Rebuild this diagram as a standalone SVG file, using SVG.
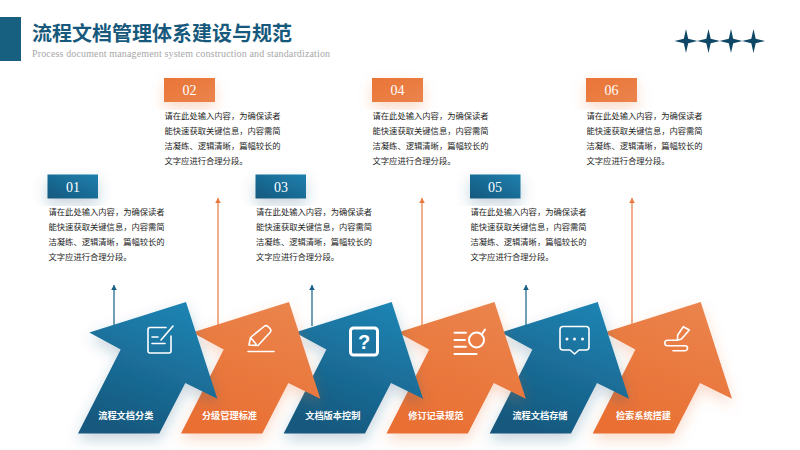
<svg xmlns="http://www.w3.org/2000/svg" width="800" height="450" viewBox="0 0 800 450">
<style>
.t{font-family:"Liberation Serif","Noto Sans CJK SC",serif}
.title{font-size:20px;font-weight:700;fill:#17597c}
.sub{font-size:10px;fill:#a8a8a8;letter-spacing:.14px}
.num{font-size:14px;fill:#fff;text-anchor:middle}
.body{font-size:8.3px;fill:#262626}
.lab{font-size:9.2px;font-weight:700;fill:#fff;text-anchor:middle}
.ic{fill:none;stroke:#fff;stroke-width:1.6;stroke-linecap:round;stroke-linejoin:round}
.i2{stroke-width:2}
.lb{stroke:#175f85;stroke-width:1.2;fill:none}
.lo{stroke:#e8793f;stroke-width:1.2;fill:none}
</style>
<defs>
<linearGradient id="gb" x1=".75" y1="0" x2=".35" y2="1"><stop offset="0" stop-color="#1f84b3"/><stop offset="1" stop-color="#15587e"/></linearGradient>
<linearGradient id="go" x1=".75" y1="0" x2=".35" y2="1"><stop offset="0" stop-color="#ea844c"/><stop offset="1" stop-color="#e96f33"/></linearGradient>
<linearGradient id="bb" x1="0" y1="1" x2="1" y2="0"><stop offset="0" stop-color="#15587e"/><stop offset="1" stop-color="#1d80ad"/></linearGradient>
<linearGradient id="bo" x1="0" y1="0" x2="1" y2="1"><stop offset="0" stop-color="#ea7437"/><stop offset="1" stop-color="#ea844c"/></linearGradient>
<filter id="sb" x="-30%" y="-30%" width="160%" height="160%"><feDropShadow dx="0" dy="6" stdDeviation="7" flood-color="#15587e" flood-opacity=".25"/></filter>
<filter id="so" x="-30%" y="-30%" width="160%" height="160%"><feDropShadow dx="0" dy="6" stdDeviation="7" flood-color="#e96f33" flood-opacity=".25"/></filter>
<path id="a" d="M89.3 332.5 186 302 217.300 398.700 185.300 383 159.300 433.500H78L120.700 349.500Z"/>
<path id="s" d="M0-12 2.200-2.200 11.500 0 2.200 2.200 0 12-2.200 2.200-11.500 0-2.200-2.200Z" fill="#0f4766"/>
<marker id="mb" markerUnits="userSpaceOnUse" markerWidth="6" markerHeight="6" refX="5" refY="3" orient="auto"><path d="M0 .2 5 3 0 5.800Z" fill="#175f85"/></marker>
<marker id="mo" markerUnits="userSpaceOnUse" markerWidth="6" markerHeight="6" refX="5" refY="3" orient="auto"><path d="M0 .2 5 3 0 5.800Z" fill="#e8793f"/></marker>
</defs>
<rect width="800" height="450" fill="#fff"/>
<g id="header">
<rect x="0" y="17" width="21" height="44" fill="#17607f"/>
<text class="t title" x="32" y="41">流程文档管理体系建设与规范</text>
<text class="t sub" x="32" y="57">Process document management system construction and standardization</text>
<use href="#s" x="686" y="41"/><use href="#s" x="708.500" y="41"/><use href="#s" x="731" y="41"/><use href="#s" x="753.500" y="41"/>
</g>
<g id="connectors">
<path class="lb" marker-end="url(#mb)" d="M114 326V285"/>
<path class="lo" marker-end="url(#mo)" d="M218 325V198"/>
<path class="lb" marker-end="url(#mb)" d="M312 326V285"/>
<path class="lo" marker-end="url(#mo)" d="M422 325V198"/>
<path class="lb" marker-end="url(#mb)" d="M526 326V285"/>
<path class="lo" marker-end="url(#mo)" d="M632 325V198"/>
</g>
<g id="node6">
<use href="#a" x="514.700" fill="url(#go)" filter="url(#so)"/>
<path class="ic" d="M678 340.300H667.500A2.700 2.700 0 0 0 667.500 345.700H685A2.500 2.500 0 0 1 685 350.700H673M683.300 326.700 689.300 330 681.500 339 677.300 340.300 677.700 335Z"/>
<text class="t lab" x="643.500" y="419">检索系统搭建</text>
<rect x="586" y="78" width="51" height="24" fill="url(#bo)" filter="url(#so)"/><text class="t num" x="611.500" y="95">06</text>
<g class="t body"><text x="586.500" y="119">请在此处输入内容，为确保读者</text><text x="586.500" y="134">能快速获取关键信息，内容需简</text><text x="586.500" y="149">洁凝练、逻辑清晰，篇幅较长的</text><text x="586.500" y="164">文字应进行合理分段。</text></g>
</g>
<g id="node5">
<use href="#a" x="411.700" fill="url(#gb)" filter="url(#sb)"/>
<path class="ic" d="M563 326.500H586A3 3 0 0 1 589 329.500V347A3 3 0 0 1 586 350H579L574.500 354 570 350H563A3 3 0 0 1 560 347V329.500A3 3 0 0 1 563 326.500Z"/>
<g fill="#fff"><circle cx="567" cy="339" r="1.500"/><circle cx="574.500" cy="339" r="1.500"/><circle cx="582.500" cy="339" r="1.500"/></g>
<text class="t lab" x="540" y="419">流程文档存储</text>
<rect x="470" y="174.500" width="50.500" height="24" fill="url(#bb)" filter="url(#sb)"/><text class="t num" x="495" y="191.500">05</text>
<g class="t body"><text x="470.500" y="215">请在此处输入内容，为确保读者</text><text x="470.500" y="230">能快速获取关键信息，内容需简</text><text x="470.500" y="245">洁凝练、逻辑清晰，篇幅较长的</text><text x="470.500" y="260">文字应进行合理分段。</text></g>
</g>
<g id="node4">
<use href="#a" x="308.500" fill="url(#go)" filter="url(#so)"/>
<path class="ic i2" d="M454.500 332.700H466M454.500 340H465M454.500 346.700H466M454.500 354H476.500M482 334 485 329.500"/><circle class="ic i2" cx="476.500" cy="340" r="7.500"/>
<text class="t lab" x="435.800" y="419">修订记录规范</text>
<rect x="372" y="78" width="51" height="24" fill="url(#bo)" filter="url(#so)"/><text class="t num" x="397.500" y="95">04</text>
<g class="t body"><text x="372.500" y="119">请在此处输入内容，为确保读者</text><text x="372.500" y="134">能快速获取关键信息，内容需简</text><text x="372.500" y="149">洁凝练、逻辑清晰，篇幅较长的</text><text x="372.500" y="164">文字应进行合理分段。</text></g>
</g>
<g id="node3">
<use href="#a" x="205.700" fill="url(#gb)" filter="url(#sb)"/>
<rect x="350.500" y="328" width="27" height="27" rx="3" fill="none" stroke="#fff" stroke-width="3"/>
<text x="364" y="349" font-family="Liberation Sans,sans-serif" font-size="20" font-weight="700" fill="#fff" text-anchor="middle">?</text>
<text class="t lab" x="332.800" y="419">文档版本控制</text>
<rect x="255.500" y="174.500" width="50.500" height="24" fill="url(#bb)" filter="url(#sb)"/><text class="t num" x="281" y="191.500">03</text>
<g class="t body"><text x="256" y="215">请在此处输入内容，为确保读者</text><text x="256" y="230">能快速获取关键信息，内容需简</text><text x="256" y="245">洁凝练、逻辑清晰，篇幅较长的</text><text x="256" y="260">文字应进行合理分段。</text></g>
</g>
<g id="node2">
<use href="#a" x="103" fill="url(#go)" filter="url(#so)"/>
<path class="ic" d="M248 351.500H274M249 345 250.500 337.500 264 326.500A3 3 0 0 1 268 326.500L270 328.500A3 3 0 0 1 270 332.500L258 345.500ZM250.500 337.500 256 344"/>
<text class="t lab" x="229.500" y="419">分级管理标准</text>
<rect x="164" y="78" width="51" height="24" fill="url(#bo)" filter="url(#so)"/><text class="t num" x="189.500" y="95">02</text>
<g class="t body"><text x="164.500" y="119">请在此处输入内容，为确保读者</text><text x="164.500" y="134">能快速获取关键信息，内容需简</text><text x="164.500" y="149">洁凝练、逻辑清晰，篇幅较长的</text><text x="164.500" y="164">文字应进行合理分段。</text></g>
</g>
<g id="node1">
<use href="#a" fill="url(#gb)" filter="url(#sb)"/>
<path class="ic" d="M166 327.500H150A2.300 2.300 0 0 0 148 330V351A2 2 0 0 0 150 353H169A2 2 0 0 0 171 351V336M161 340 173 326M152 337H158M152 343.500H165"/>
<text class="t lab" x="125.800" y="419">流程文档分类</text>
<rect x="47.500" y="174.500" width="50.500" height="24" fill="url(#bb)" filter="url(#sb)"/><text class="t num" x="73" y="191.500">01</text>
<g class="t body"><text x="48.500" y="215">请在此处输入内容，为确保读者</text><text x="48.500" y="230">能快速获取关键信息，内容需简</text><text x="48.500" y="245">洁凝练、逻辑清晰，篇幅较长的</text><text x="48.500" y="260">文字应进行合理分段。</text></g>
</g>
</svg>
